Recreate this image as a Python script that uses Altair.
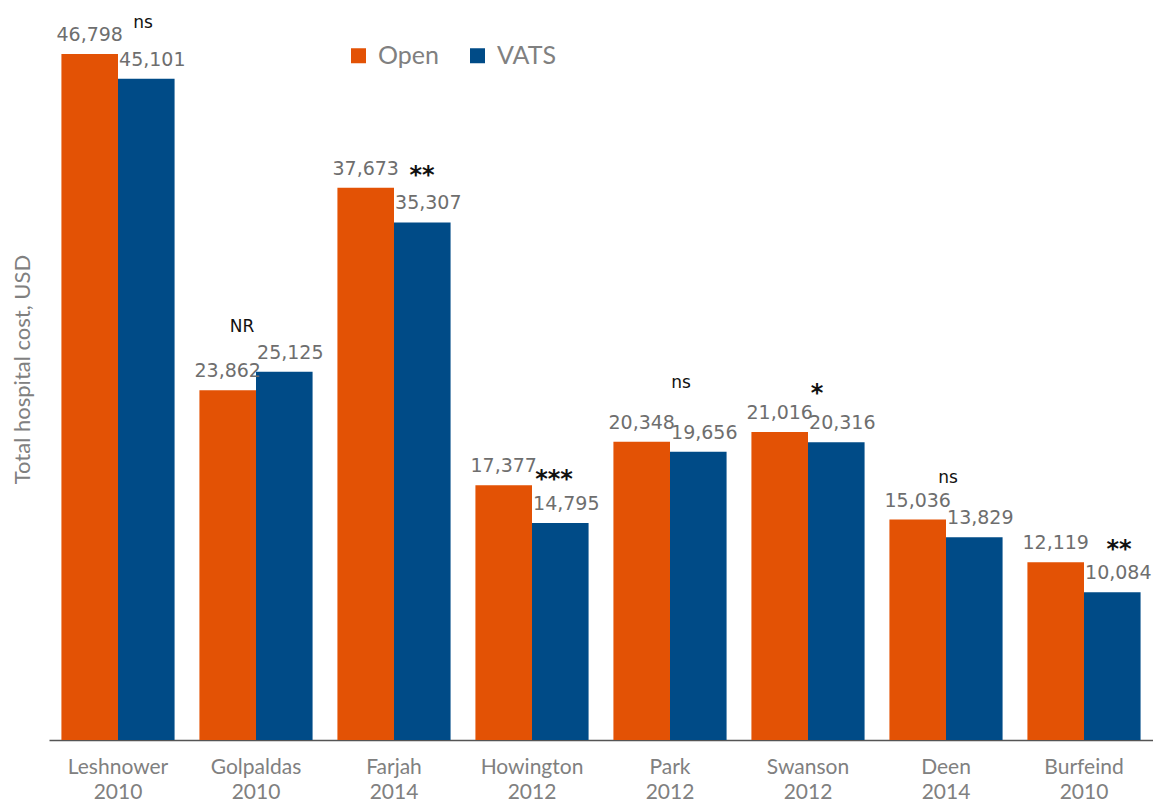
import altair as alt
import pandas as pd

authors = ["Leshnower", "Golpaldas", "Farjah", "Howington", "Park", "Swanson", "Deen", "Burfeind"]
years = ["2010", "2010", "2014", "2012", "2012", "2012", "2014", "2010"]
open_cost = [46798, 23862, 37673, 17377, 20348, 21016, 15036, 12119]
vats_cost = [45101, 25125, 35307, 14795, 19656, 20316, 13829, 10084]
series_names = ["Open", "VATS"]
series_colors = ["#E35205", "#004B87"]

# significance markers: text, baseline height (USD units), horizontal nudge (px)
sig_marks = ["ns", "NR", "**", "***", "ns", "*", "ns", "**"]
sig_y = [48568, 27831, 37960, 17224, 24011, 23090, 17531, 12449]
sig_dx = [25, -14, 28, 22, 11, 9, 2, 35]

groups = [f"{a}|{y}" for a, y in zip(authors, years)]
rows = []
for g, o, v in zip(groups, open_cost, vats_cost):
    rows.append({"group": g, "series": "Open", "cost": o})
    rows.append({"group": g, "series": "VATS", "cost": v})
df = pd.DataFrame(rows)

x_enc = alt.X(
    "group:N",
    sort=groups,
    scale=alt.Scale(paddingInner=0.18, paddingOuter=0.09),
    axis=alt.Axis(
        title=None,
        labelExpr="split(datum.label, '|')",
        labelFont="Lato",
        labelFontSize=21,
        labelColor="#808080",
        labelAngle=0,
        labelPadding=16,
        labelLineHeight=25,
        ticks=False,
        domainColor="#555555",
        domainWidth=1.5,
    ),
)
y_enc = alt.Y(
    "cost:Q",
    scale=alt.Scale(domain=[0, 49590], nice=False, zero=True),
    axis=alt.Axis(
        title="Total hospital cost, USD",
        titleFont="Lato",
        titleFontSize=22,
        titleFontWeight="normal",
        titleColor="#808080",
        titleAngle=270,
        titleX=-20,
        titleY=356,
        titleAlign="center",
        titleBaseline="alphabetic",
        labels=False,
        ticks=False,
        domain=False,
        grid=False,
    ),
)
xoff = alt.XOffset(
    "series:N",
    sort=series_names,
    scale=alt.Scale(domain=series_names, paddingInner=0, paddingOuter=0),
)
color = alt.Color(
    "series:N",
    scale=alt.Scale(domain=series_names, range=series_colors),
    legend=alt.Legend(
        title=None,
        orient="none",
        legendX=297,
        legendY=30,
        direction="horizontal",
        symbolType="square",
        symbolSize=225,
        symbolStrokeWidth=0,
        labelFont="Lato",
        labelFontSize=25,
        labelColor="#808080",
        labelOffset=7,
        columnPadding=26,
        padding=0,
    ),
)

base = alt.Chart(df)
bars = base.mark_bar().encode(x=x_enc, y=y_enc, xOffset=xoff, color=color)

open_labels = base.transform_filter("datum.series == 'Open'").mark_text(
    font="DejaVu Sans", fontSize=19, color="#6e6e6e", baseline="alphabetic", dy=-13
).encode(x=alt.X("group:N", sort=groups), xOffset=xoff, y="cost:Q", text=alt.Text("cost:Q", format=","))

vats_labels = base.transform_filter("datum.series == 'VATS'").mark_text(
    font="DejaVu Sans", fontSize=19, color="#6e6e6e", baseline="alphabetic", dy=-13, dx=6
).encode(x=alt.X("group:N", sort=groups), xOffset=xoff, y="cost:Q", text=alt.Text("cost:Q", format=","))

layers = [bars, open_labels, vats_labels]
for g, m, yv, dxv in zip(groups, sig_marks, sig_y, sig_dx):
    is_star = m.startswith("*")
    sdf = pd.DataFrame({"group": [g], "cost": [yv], "mark": [m]})
    layers.append(
        alt.Chart(sdf).mark_text(
            font="DejaVu Sans",
            fontSize=24 if is_star else 17,
            fontWeight="bold" if is_star else "normal",
            color="#111111",
            baseline="alphabetic",
            dx=dxv,
        ).encode(x=alt.X("group:N", sort=groups), y="cost:Q", text="mark:N")
    )

chart = alt.layer(*layers).properties(
    width=1104,
    height=727,
    autosize=alt.AutoSizeParams(type="none"),
    padding={"left": 41, "top": 5, "right": 0, "bottom": 72},
).configure_view(stroke=None)

chart.save("out.html", embed_options={"renderer": "svg", "actions": False})
